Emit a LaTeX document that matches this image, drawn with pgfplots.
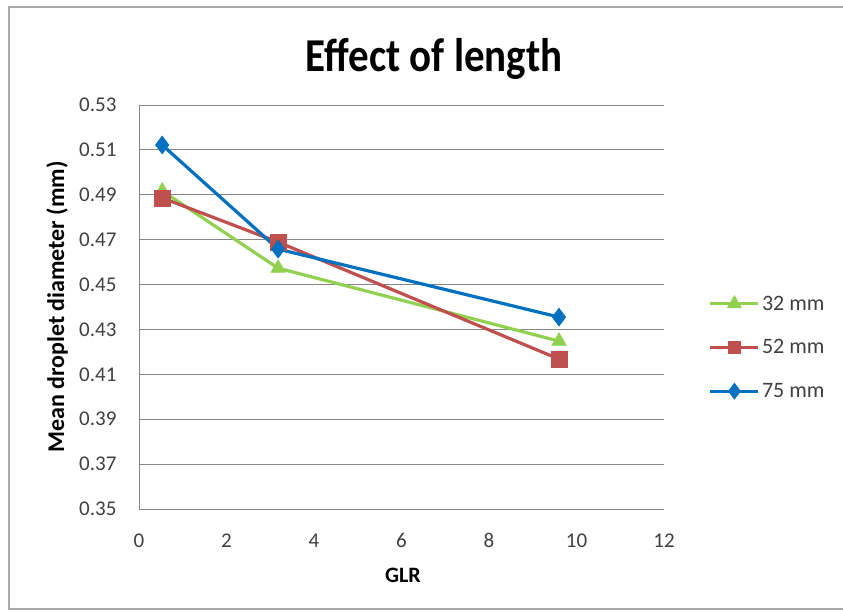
\documentclass[border=0pt]{standalone}
\usepackage{pgfplots}
\pgfplotsset{compat=1.18}
\usepackage{fontspec}
\setmainfont{Carlito}
\definecolor{cgreen}{RGB}{146,208,80}
\definecolor{cred}{RGB}{192,80,77}
\definecolor{cblue}{RGB}{0,112,192}
\definecolor{cgrid}{RGB}{134,134,134}
\definecolor{ctext}{RGB}{64,64,64}
\begin{document}
\begin{tikzpicture}[x=1pt,y=1pt]
\useasboundingbox (0,0) rectangle (843,613);
\draw[cgrid!70, line width=1.5pt] (9,4) rectangle (860,606);
\node[font=\bfseries\fontsize{41}{46}\selectfont, text=black, anchor=base, yscale=1.15] at (434,541) {Effect of length};
\node[font=\bfseries\fontsize{24}{28}\selectfont, text=black, rotate=90] at (57,306) {Mean droplet diameter (mm)};
\node[font=\bfseries\fontsize{22}{26}\selectfont, text=black] at (403,38) {GLR};
\begin{axis}[
  at={(139pt,104pt)}, anchor=south west,
  scale only axis, width=525pt, height=404pt,
  xmin=0, xmax=12, ymin=0.35, ymax=0.53,
  xtick={0,2,...,12},
  ytick={0.35,0.37,...,0.53},
  yticklabel style={xshift=-19pt, /pgf/number format/.cd, fixed, fixed zerofill, precision=2},
  /pgf/number format/assume math mode=true,
  ymajorgrids, grid style={cgrid, line width=0.8pt},
  axis line style={cgrid, line width=0.8pt},
  axis x line*=bottom, axis y line*=left,
  tick style={draw=none},
  major tick length=0pt,
  tick label style={font=\fontsize{21}{25}\selectfont, text=ctext},
  xticklabel style={yshift=-21pt},
  legend style={at={(1.085,0.40)}, anchor=west, draw=none, fill=none, inner sep=0pt,
    font=\fontsize{22}{26}\selectfont, text=ctext, row sep=24pt},
  legend cell align=left,
  legend image code/.code={
    \draw[#1, mark repeat=2, mark phase=2, mark options={scale=0.65}] plot coordinates {(0pt,0pt) (24pt,0pt) (48pt,0pt)};
  },
]
\addplot[cgreen, line width=3.2pt, mark=triangle*, mark size=8.5pt, mark options={line width=0.5pt}] coordinates {(0.53,0.4917) (3.18,0.4573) (9.6,0.4248)};
\addlegendentry{32 mm}
\addplot[cred, line width=3.2pt, mark=square*, mark size=8pt, mark options={line width=0.5pt}] coordinates {(0.53,0.4886) (3.18,0.4689) (9.6,0.4168)};
\addlegendentry{52 mm}
\addplot[cblue, line width=3.2pt, mark=diamond*, mark size=9pt, mark options={line width=0.5pt}] coordinates {(0.53,0.5122) (3.18,0.4658) (9.6,0.4355)};
\addlegendentry{75 mm}
\end{axis}
\end{tikzpicture}
\end{document}
